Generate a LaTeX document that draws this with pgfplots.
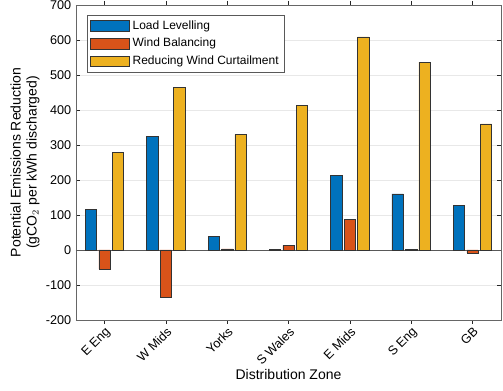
\documentclass[border=0pt]{standalone}
\usepackage{pgfplots}
\pgfplotsset{compat=1.18}
\usepackage{fontspec}
\setmainfont{Liberation Sans}
\definecolor{mblue}{RGB}{0,114,189}
\definecolor{morange}{RGB}{217,83,25}
\definecolor{myellow}{RGB}{237,177,32}
\definecolor{axgray}{RGB}{38,38,38}
\begin{document}
\begin{tikzpicture}
\path[use as bounding box] (-57pt,-53.25pt) rectangle (320.25pt,240pt);
\begin{axis}[
  scale only axis,
  width=318.75pt, height=236.25pt,
  at={(0,0)}, anchor=south west,
  ymin=-200, ymax=700,
  ytick={-200,-100,...,700},
  xmin=0.535, xmax=7.465,
  xtick={1,...,7},
  xticklabels={E Eng,W Mids,Yorks,S Wales,E Mids,S Eng,GB},
  x tick label style={rotate=45, anchor=north east, inner sep=1pt, font=\fontsize{9.5}{11}\selectfont},
  y tick label style={font=\fontsize{9.5}{11}\selectfont},
  /pgf/number format/assume math mode=true,
  tick align=inside,
  major tick length=3pt,
  tick style={axgray, line width=0.4pt},
  axis line style={draw=gray!80!black, line width=0.5pt},
  ymajorgrids,
  grid style={gray!18, line width=0.4pt},
  extra y ticks={0},
  extra y tick labels={},
  extra y tick style={grid style={gray!70!black, line width=0.5pt}, major tick length=0pt},
  ybar, bar width=0.185,
  xlabel={Distribution Zone},
  xlabel style={font=\fontsize{10.5}{12}\selectfont, yshift=2pt},
  ylabel={Potential Emissions Reduction\\(gCO$_2$ per kWh discharged)},
  ylabel style={font=\fontsize{10.5}{12}\selectfont, align=center, yshift=-2pt},
  legend style={at={(0.025,0.968)}, anchor=north west, draw=gray!70!black, line width=0.4pt,
    font=\fontsize{9}{11}\selectfont, row sep=1.2pt, inner sep=2pt, cells={anchor=west}},
  legend image code/.code={\draw[#1] (0cm,-0.14cm) rectangle (1.05cm,0.14cm);},
]
\addplot[fill=mblue, draw=black!80, line width=0.4pt, bar shift=-0.22] coordinates
  {(1,116) (2,324) (3,39) (4,1.5) (5,213) (6,160) (7,128)};
\addplot[fill=morange, draw=black!80, line width=0.4pt, bar shift=0] coordinates
  {(1,-55) (2,-135) (3,3.5) (4,13) (5,87) (6,1) (7,-8)};
\addplot[fill=myellow, draw=black!80, line width=0.4pt, bar shift=0.22] coordinates
  {(1,278) (2,464) (3,330) (4,413) (5,609) (6,537) (7,360)};
\legend{Load Levelling,Wind Balancing,Reducing Wind Curtailment}
\end{axis}
\end{tikzpicture}
\end{document}
